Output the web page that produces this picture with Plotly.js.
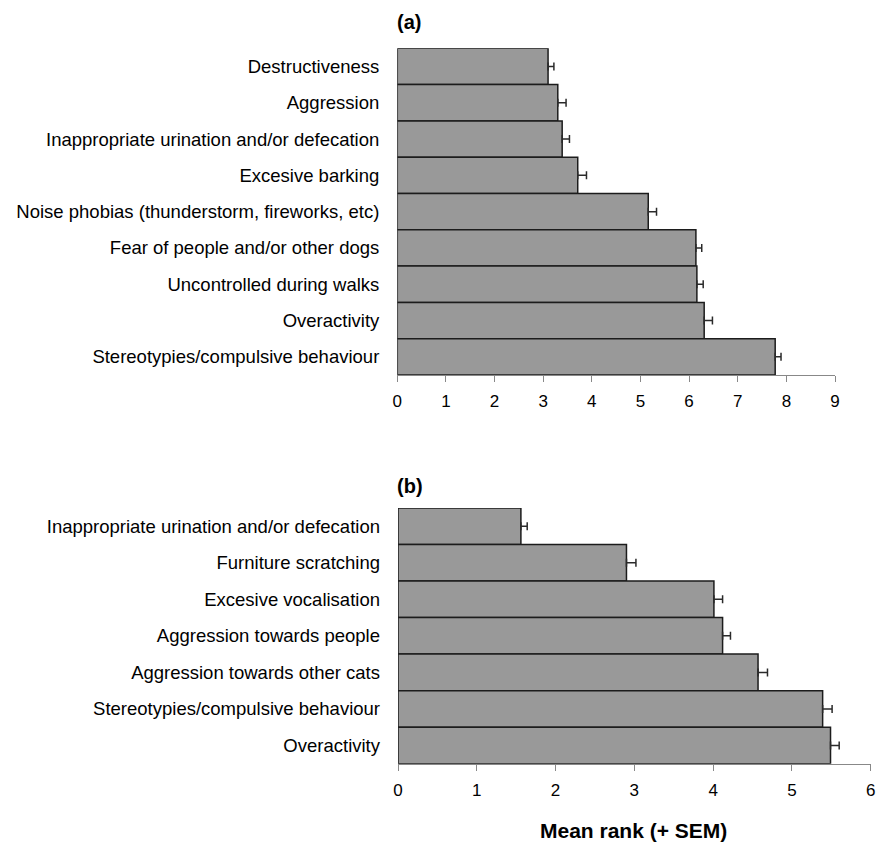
<!DOCTYPE html>
<html>
<head>
<meta charset="utf-8">
<script src="https://cdn.plot.ly/plotly-3.0.1.min.js"></script>
<style>html,body{margin:0;padding:0;background:#fff;}#chart{width:879px;height:843px;}</style>
</head>
<body>
<div id="chart"></div>
<script>
// Panel (a): dogs
const dogCategories = [
  "Destructiveness",
  "Aggression",
  "Inappropriate urination and/or defecation",
  "Excesive barking",
  "Noise phobias (thunderstorm, fireworks, etc)",
  "Fear of people and/or other dogs",
  "Uncontrolled during walks",
  "Overactivity",
  "Stereotypies/compulsive behaviour"
];
const dogMeans = [3.10, 3.30, 3.39, 3.71, 5.16, 6.14, 6.16, 6.31, 7.77];
const dogSEM   = [0.12, 0.17, 0.15, 0.18, 0.17, 0.12, 0.13, 0.17, 0.12];

// Panel (b): cats
const catCategories = [
  "Inappropriate urination and/or defecation",
  "Furniture scratching",
  "Excesive vocalisation",
  "Aggression towards people",
  "Aggression towards other cats",
  "Stereotypies/compulsive behaviour",
  "Overactivity"
];
const catMeans = [1.56, 2.90, 4.01, 4.12, 4.57, 5.39, 5.49];
const catSEM   = [0.08, 0.12, 0.11, 0.10, 0.12, 0.12, 0.11];

const dogTicks = [0,1,2,3,4,5,6,7,8,9];
const catTicks = [0,1,2,3,4,5,6];

const FONT = "Liberation Sans, Arial, sans-serif";
const W = 879, H = 843;

function barTrace(cats, vals, sem, xa, ya) {
  return {
    type: "bar",
    orientation: "h",
    y: cats,
    x: vals,
    xaxis: xa,
    yaxis: ya,
    marker: { color: "#999999", line: { color: "#1c1c1c", width: 1.5 } },
    error_x: {
      type: "data",
      symmetric: false,
      array: sem,
      arrayminus: sem.map(() => 0),
      color: "#2a2a2a",
      thickness: 1.5,
      width: 4
    },
    hoverinfo: "x+y",
    showlegend: false
  };
}

const xBase = {
  showgrid: false,
  zeroline: false,
  showline: true,
  linecolor: "#888888",
  linewidth: 1,
  ticks: "outside",
  ticklen: 6,
  tickwidth: 1,
  tickcolor: "#888888",
  tickfont: { family: FONT, size: 17, color: "#000" },
  ticklabelstandoff: 5,
  fixedrange: true
};
const yBase = {
  type: "category",
  autorange: "reversed",
  showgrid: false,
  zeroline: false,
  showline: false,
  ticks: "",
  tickfont: { family: FONT, size: 18.5, color: "#000" },
  ticklabelstandoff: 17,
  fixedrange: true
};

const data = [
  barTrace(dogCategories, dogMeans, dogSEM, "x", "y"),
  barTrace(catCategories, catMeans, catSEM, "x2", "y2")
];

const layout = {
  width: W,
  height: H,
  margin: { l: 0, r: 0, t: 0, b: 0 },
  paper_bgcolor: "#fff",
  plot_bgcolor: "#fff",
  bargap: 0,
  showlegend: false,
  font: { family: FONT, color: "#000" },
  xaxis: Object.assign({}, xBase, {
    domain: [397.3 / W, 835 / W],
    anchor: "y",
    range: [0, 9],
    tickvals: dogTicks
  }),
  yaxis: Object.assign({}, yBase, {
    domain: [(H - 375) / H, (H - 48.3) / H],
    anchor: "x"
  }),
  xaxis2: Object.assign({}, xBase, {
    domain: [398 / W, 870.7 / W],
    anchor: "y2",
    range: [0, 6],
    tickvals: catTicks
  }),
  yaxis2: Object.assign({}, yBase, {
    domain: [(H - 763.7) / H, (H - 508) / H],
    anchor: "x2"
  }),
  annotations: [
    { text: "<b>(a)</b>", xref: "paper", yref: "paper", x: 395 / W, y: (H - 22) / H,
      xanchor: "left", yanchor: "middle", showarrow: false,
      font: { family: FONT, size: 20, color: "#000" } },
    { text: "<b>(b)</b>", xref: "paper", yref: "paper", x: 395 / W, y: (H - 486) / H,
      xanchor: "left", yanchor: "middle", showarrow: false,
      font: { family: FONT, size: 20, color: "#000" } },
    { text: "<b>Mean rank (+ SEM)</b>", xref: "paper", yref: "paper", x: 633 / W, y: (H - 830) / H,
      xanchor: "center", yanchor: "middle", showarrow: false,
      font: { family: FONT, size: 21, color: "#000" } }
  ]
};

Plotly.newPlot("chart", data, layout, { displayModeBar: false, staticPlot: true });
</script>
</body>
</html>
